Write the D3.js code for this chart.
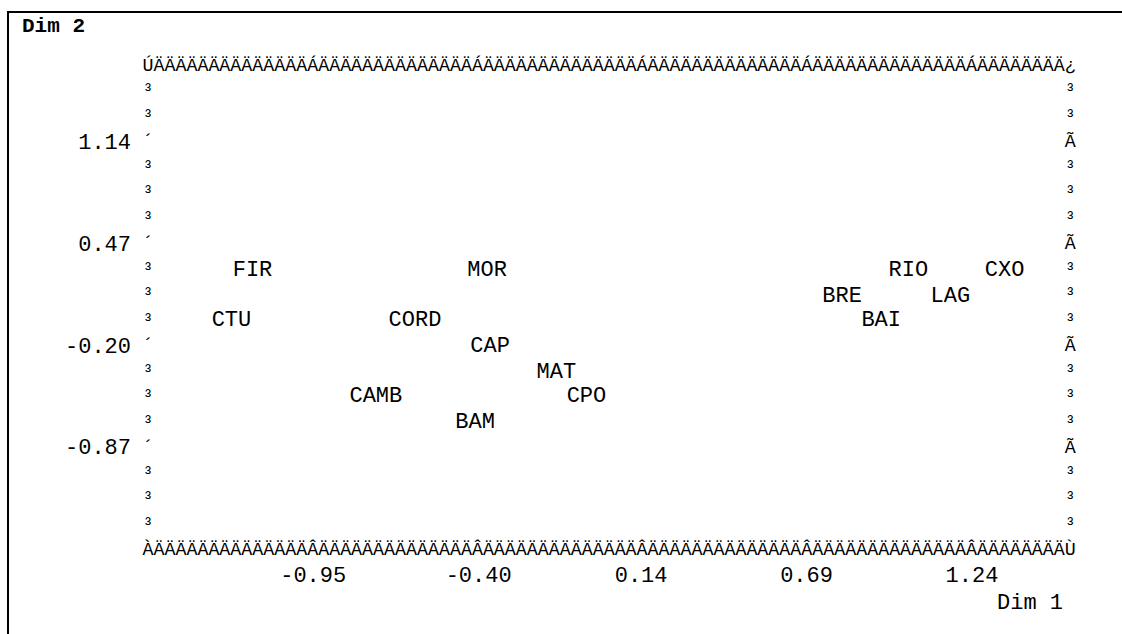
<!DOCTYPE html>
<html>
<head>
<meta charset="utf-8">
<script src="https://cdn.jsdelivr.net/npm/d3@7"></script>
<style>
  html, body { margin: 0; padding: 0; background: #fff; }
  svg { display: block; }
</style>
</head>
<body>
<div id="chart"></div>
<script>
// Correspondence analysis map, printed in the line-printer style of a text plot.
const siteLabels = ["FIR", "MOR", "RIO", "CXO", "BRE", "LAG", "CTU", "CORD", "BAI", "CAP", "MAT", "CAMB", "CPO", "BAM"];
const dim1Values = [-1.15, -0.37, 1.03, 1.35, 0.81, 1.17, -1.22, -0.61, 0.94, -0.36, -0.14, -0.74, -0.04, -0.41];
const dim2Values = [0.30, 0.30, 0.30, 0.30, 0.13, 0.13, -0.03, -0.03, -0.03, -0.20, -0.37, -0.53, -0.53, -0.70];

const dim1Ticks = [-0.95, -0.40, 0.14, 0.69, 1.24];
const dim1TickLabels = ["-0.95", "-0.40", "0.14", "0.69", "1.24"];
const dim2Ticks = [1.14, 0.47, -0.20, -0.87];
const dim2TickLabels = ["1.14", "0.47", "-0.20", "-0.87"];

// Axis extents (frame edges of the plot box)
const dim1Extent = [-1.4975, 1.5685];
const dim2Extent = [1.6425, -1.5425];

const W = 1122, H = 634;
const MONO = "'Liberation Mono', 'Courier New', monospace";
const boxSize = 18.3;   // glyph size of the frame characters
const textSize = 22;    // glyph size of labels

const x = d3.scaleLinear().domain(dim1Extent).range([148, 1070.3]);
const y = d3.scaleLinear().domain(dim2Extent).range([64.5, 549]);

const svg = d3.select("#chart").append("svg")
  .attr("width", W).attr("height", H)
  .attr("font-family", MONO);

svg.append("rect").attr("width", W).attr("height", H).attr("fill", "#fff");

// Page frame
svg.append("path")
  .attr("d", `M8,${H} L8,12 L${W},12`)
  .attr("fill", "none").attr("stroke", "#000").attr("stroke-width", 2);

svg.append("text")
  .attr("x", 22).attr("y", 25).attr("dy", "0.33em")
  .attr("font-size", 21).attr("font-weight", "bold")
  .text("Dim 2");

// Character grid of the plot box
const nCols = 85, nRows = 20;
const x0 = x.range()[0], colW = (x.range()[1] - x.range()[0]) / (nCols - 1);
const y0 = y.range()[0], rowH = (y.range()[1] - y.range()[0]) / (nRows - 1);
const colOf = v => Math.round((x(v) - x0) / colW);
const rowOf = v => Math.round((y(v) - y0) / rowH);
const tickCols = new Set(dim1Ticks.map(colOf));
const tickRows = new Set(dim2Ticks.map(rowOf));

const frameGlyphs = [];
for (let c = 0; c < nCols; c++) {
  const top = c === 0 ? "Ú" : c === nCols - 1 ? "¿" : tickCols.has(c) ? "Á" : "Ä";
  const bot = c === 0 ? "À" : c === nCols - 1 ? "Ù" : tickCols.has(c) ? "Â" : "Ä";
  frameGlyphs.push({ c, r: 0, ch: top });
  frameGlyphs.push({ c, r: nRows - 1, ch: bot });
}
for (let r = 1; r < nRows - 1; r++) {
  frameGlyphs.push({ c: 0, r, ch: tickRows.has(r) ? "´" : "³" });
  frameGlyphs.push({ c: nCols - 1, r, ch: tickRows.has(r) ? "Ã" : "³" });
}

svg.append("g")
  .attr("font-size", boxSize)
  .attr("text-anchor", "middle")
  .selectAll("text")
  .data(frameGlyphs)
  .join("text")
  .attr("x", d => x0 + d.c * colW)
  .attr("y", d => y0 + d.r * rowH + 6)
  .text(d => d.ch);

// Axis tick labels
const xAxis = d3.axisBottom(x)
  .tickValues(dim1Ticks)
  .tickFormat((d, i) => dim1TickLabels[i])
  .tickSize(0).tickPadding(0);
const gx = svg.append("g").attr("transform", "translate(0,575)").call(xAxis);
gx.select(".domain").remove();
gx.attr("font-family", MONO).attr("font-size", textSize);
gx.selectAll("text").attr("y", 0).attr("dy", "0.33em").attr("fill", "#000");

const yAxis = d3.axisLeft(y)
  .tickValues(dim2Ticks)
  .tickFormat((d, i) => dim2TickLabels[i])
  .tickSize(0).tickPadding(0);
const gy = svg.append("g").attr("transform", "translate(131,0)").call(yAxis);
gy.select(".domain").remove();
gy.attr("font-family", MONO).attr("font-size", textSize);
gy.selectAll("text").attr("x", 0).attr("dy", "0.33em").attr("fill", "#000");

svg.append("text")
  .attr("x", 997).attr("y", 602).attr("dy", "0.33em")
  .attr("font-size", textSize)
  .text("Dim 1");

// Site labels at their coordinates
svg.append("g")
  .attr("font-size", textSize)
  .attr("text-anchor", "middle")
  .selectAll("text")
  .data(siteLabels)
  .join("text")
  .attr("x", (d, i) => x(dim1Values[i]))
  .attr("y", (d, i) => y(dim2Values[i]))
  .attr("dy", "0.33em")
  .text(d => d);
</script>
</body>
</html>
